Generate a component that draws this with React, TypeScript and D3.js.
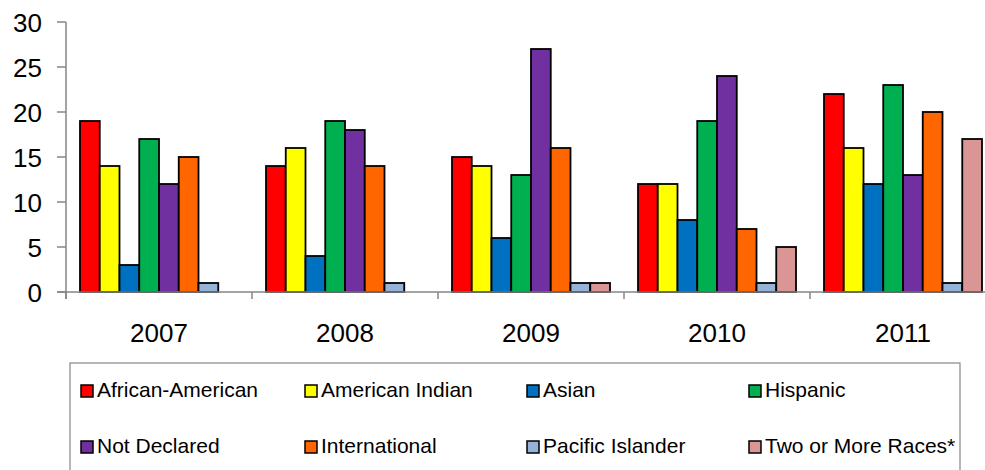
import React, { useMemo } from "react";
import * as d3 from "d3";

const WIDTH = 985;
const HEIGHT = 470;
const MARGIN = { top: 22, left: 66, bottom: 178 };
const GROUP_WIDTH = 186;
const GROUP_PAD = 14;

const years = ["2007", "2008", "2009", "2010", "2011"];
const seriesNames = [
  "African-American",
  "American Indian",
  "Asian",
  "Hispanic",
  "Not Declared",
  "International",
  "Pacific Islander",
  "Two or More Races*",
];
const seriesColors = [
  "#ff0000",
  "#ffff00",
  "#0070c0",
  "#00b050",
  "#7030a0",
  "#ff6600",
  "#95b3d7",
  "#d99694",
];
// one row per series, one value per year
const africanAmerican = [19, 14, 15, 12, 22];
const americanIndian = [14, 16, 14, 12, 16];
const asian = [3, 4, 6, 8, 12];
const hispanic = [17, 19, 13, 19, 23];
const notDeclared = [12, 18, 27, 24, 13];
const international = [15, 14, 16, 7, 20];
const pacificIslander = [1, 1, 1, 1, 1];
const twoOrMore = [0, 0, 1, 5, 17];
const seriesValues = [
  africanAmerican,
  americanIndian,
  asian,
  hispanic,
  notDeclared,
  international,
  pacificIslander,
  twoOrMore,
];
const yTicks = [0, 5, 10, 15, 20, 25, 30];

const FONT = "'Liberation Sans', Arial, sans-serif";
const AXIS_COLOR = "#868686";

export default function App() {
  const boundsHeight = HEIGHT - MARGIN.top - MARGIN.bottom;

  const xScale = useMemo(
    () =>
      d3
        .scaleBand()
        .domain(years)
        .range([MARGIN.left, MARGIN.left + GROUP_WIDTH * years.length])
        .padding(0),
    []
  );

  const innerScale = useMemo(
    () =>
      d3
        .scaleBand()
        .domain(seriesNames)
        .range([GROUP_PAD, GROUP_WIDTH - GROUP_PAD])
        .padding(0),
    []
  );

  const yScale = useMemo(
    () =>
      d3
        .scaleLinear()
        .domain([0, 30])
        .range([MARGIN.top + boundsHeight, MARGIN.top]),
    [boundsHeight]
  );

  const y0 = yScale(0);

  const bars = years.flatMap((year, yi) =>
    seriesNames.map((name, si) => {
      const v = seriesValues[si][yi];
      if (!v) return null;
      const x = (xScale(year) as number) + (innerScale(name) as number);
      return (
        <rect
          key={year + name}
          x={x}
          y={yScale(v)}
          width={innerScale.bandwidth()}
          height={y0 - yScale(v)}
          fill={seriesColors[si]}
          stroke="#000"
          strokeWidth={1.8}
        />
      );
    })
  );

  // legend layout
  const legendCols = [81, 305, 527, 749];
  const legendRows = [385, 441];

  return (
    <svg
      width={WIDTH}
      height={HEIGHT}
      style={{ position: "absolute", left: 0, top: 0, background: "#fff" }}
      fontFamily={FONT}
    >
      <rect x={0} y={0} width={WIDTH} height={HEIGHT} fill="#fff" />
      {bars}

      {/* y axis */}
      <line
        x1={MARGIN.left}
        x2={MARGIN.left}
        y1={yScale(30)}
        y2={y0 + 7}
        stroke={AXIS_COLOR}
        strokeWidth={1.5}
      />
      {yTicks.map((t) => (
        <g key={t}>
          <line
            x1={MARGIN.left - 9}
            x2={MARGIN.left}
            y1={yScale(t)}
            y2={yScale(t)}
            stroke={AXIS_COLOR}
            strokeWidth={1.5}
          />
          <text
            x={42}
            y={yScale(t) + 9.5}
            textAnchor="end"
            fontSize={26}
            fill="#000"
          >
            {t}
          </text>
        </g>
      ))}

      {/* x axis */}
      <line
        x1={MARGIN.left - 9}
        x2={WIDTH}
        y1={y0}
        y2={y0}
        stroke={AXIS_COLOR}
        strokeWidth={1.5}
      />
      {years.map((year) => {
        const x0 = xScale(year) as number;
        return (
          <g key={year}>
            <line
              x1={x0}
              x2={x0}
              y1={y0}
              y2={y0 + 7}
              stroke={AXIS_COLOR}
              strokeWidth={1.5}
            />
            <text
              x={x0 + xScale.bandwidth() / 2}
              y={y0 + 50}
              textAnchor="middle"
              fontSize={26}
              fill="#000"
            >
              {year}
            </text>
          </g>
        );
      })}

      {/* legend */}
      <rect
        x={70}
        y={363}
        width={890}
        height={130}
        fill="none"
        stroke={AXIS_COLOR}
        strokeWidth={1.2}
      />
      {seriesNames.map((name, i) => {
        const cx = legendCols[i % 4];
        const cy = legendRows[Math.floor(i / 4)];
        return (
          <g key={name}>
            <rect
              x={cx}
              y={cy}
              width={12}
              height={12}
              fill={seriesColors[i]}
              stroke="#000"
              strokeWidth={1.5}
            />
            <text x={cx + 16} y={cy + 12} fontSize={21} fill="#000">
              {name}
            </text>
          </g>
        );
      })}
    </svg>
  );
}
